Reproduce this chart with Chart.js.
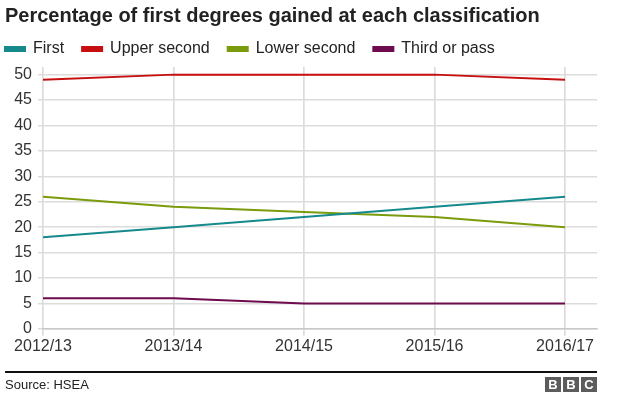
<!DOCTYPE html>
<html>
<head>
<meta charset="utf-8">
<script src="https://cdn.jsdelivr.net/npm/chart.js@4"></script>
<style>
  body { margin: 0; background: #fff; }
  #wrap { position: relative; width: 618px; height: 398px; overflow: hidden; }
  #chart { position: absolute; left: 0; top: 0; }
  .rule { position: absolute; left: 5px; top: 371px; width: 592px; height: 1.5px; background: #111; }
  .source { position: absolute; left: 5px; top: 377px; font: 13px 'Liberation Sans', Arial, sans-serif; color: #222; }
  .bbc { position: absolute; left: 545px; top: 377px; display: flex; gap: 2px; }
  .bbc span { width: 16px; height: 15px; background: #5c5c5c; color: #fff; font: bold 13px 'Liberation Sans', Arial, sans-serif; text-align: center; line-height: 15px; }
</style>
</head>
<body>
<div id="wrap">
  <canvas id="chart" width="618" height="398"></canvas>
  <div class="rule"></div>
  <div class="source">Source: HSEA</div>
  <div class="bbc"><span>B</span><span>B</span><span>C</span></div>
</div>
<script>
const years = ['2012/13', '2013/14', '2014/15', '2015/16', '2016/17'];
const first = [18, 20, 22, 24, 26];
const upperSecond = [49, 50, 50, 50, 49];
const lowerSecond = [26, 24, 23, 22, 20];
const thirdOrPass = [6, 6, 5, 5, 5];
const yTicks = [0, 5, 10, 15, 20, 25, 30, 35, 40, 45, 50];

const font = "'Liberation Sans', Arial, sans-serif";
const points = arr => arr.map((v, i) => ({ x: i, y: v }));

const series = (label, values, color) => ({
  label,
  data: points(values),
  borderColor: color,
  backgroundColor: color,
  borderWidth: 2,
  pointRadius: 0,
  tension: 0,
});

// legend items start at left + padding; pull the row back to the page margin
const legendShift = {
  id: 'legendShift',
  afterLayout(chart) { chart.legend.left -= 18; },
};

const ctx = document.getElementById('chart').getContext('2d');
new Chart(ctx, {
  type: 'line',
  data: {
    datasets: [
      series('First', first, '#16898c'),
      series('Upper second', upperSecond, '#c80f0f'),
      series('Lower second', lowerSecond, '#799b0c'),
      series('Third or pass', thirdOrPass, '#6e0a4e'),
    ],
  },
  options: {
    responsive: false,
    animation: false,
    layout: { padding: { left: 5, right: 21, top: 9, bottom: 41 } },
    plugins: {
      title: {
        display: true,
        text: 'Percentage of first degrees gained at each classification',
        align: 'start',
        color: '#222',
        font: { family: font, size: 20, weight: 'bold', lineHeight: 0.7 },
        padding: { top: 0, bottom: 0 },
      },
      legend: {
        align: 'start',
        labels: {
          boxWidth: 20,
          boxHeight: 4,
          padding: 18,
          color: '#222',
          font: { family: font, size: 16 },
        },
      },
      tooltip: { enabled: false },
    },
    scales: {
      x: {
        type: 'linear',
        min: 0,
        max: 4.245,
        afterBuildTicks: s => { s.ticks = years.map((_, i) => ({ value: i })); },
        grid: { color: '#dcdcdc', lineWidth: 1.7, tickLength: 7 },
        border: { color: '#c8c8c8', width: 1.5 },
        ticks: {
          padding: 1,
          color: '#333',
          font: { family: font, size: 16 },
          callback: v => years[v],
          maxRotation: 0,
        },
      },
      y: {
        min: 0,
        max: 51.5,
        afterBuildTicks: s => { s.ticks = yTicks.map(v => ({ value: v })); },
        afterFit: s => { s.width = 38; },
        grid: { color: '#dcdcdc', lineWidth: 1.5, tickLength: 5 },
        border: { display: false },
        ticks: {
          padding: 6,
          color: '#333',
          font: { family: font, size: 16 },
        },
      },
    },
  },
  plugins: [legendShift],
});
</script>
</body>
</html>
